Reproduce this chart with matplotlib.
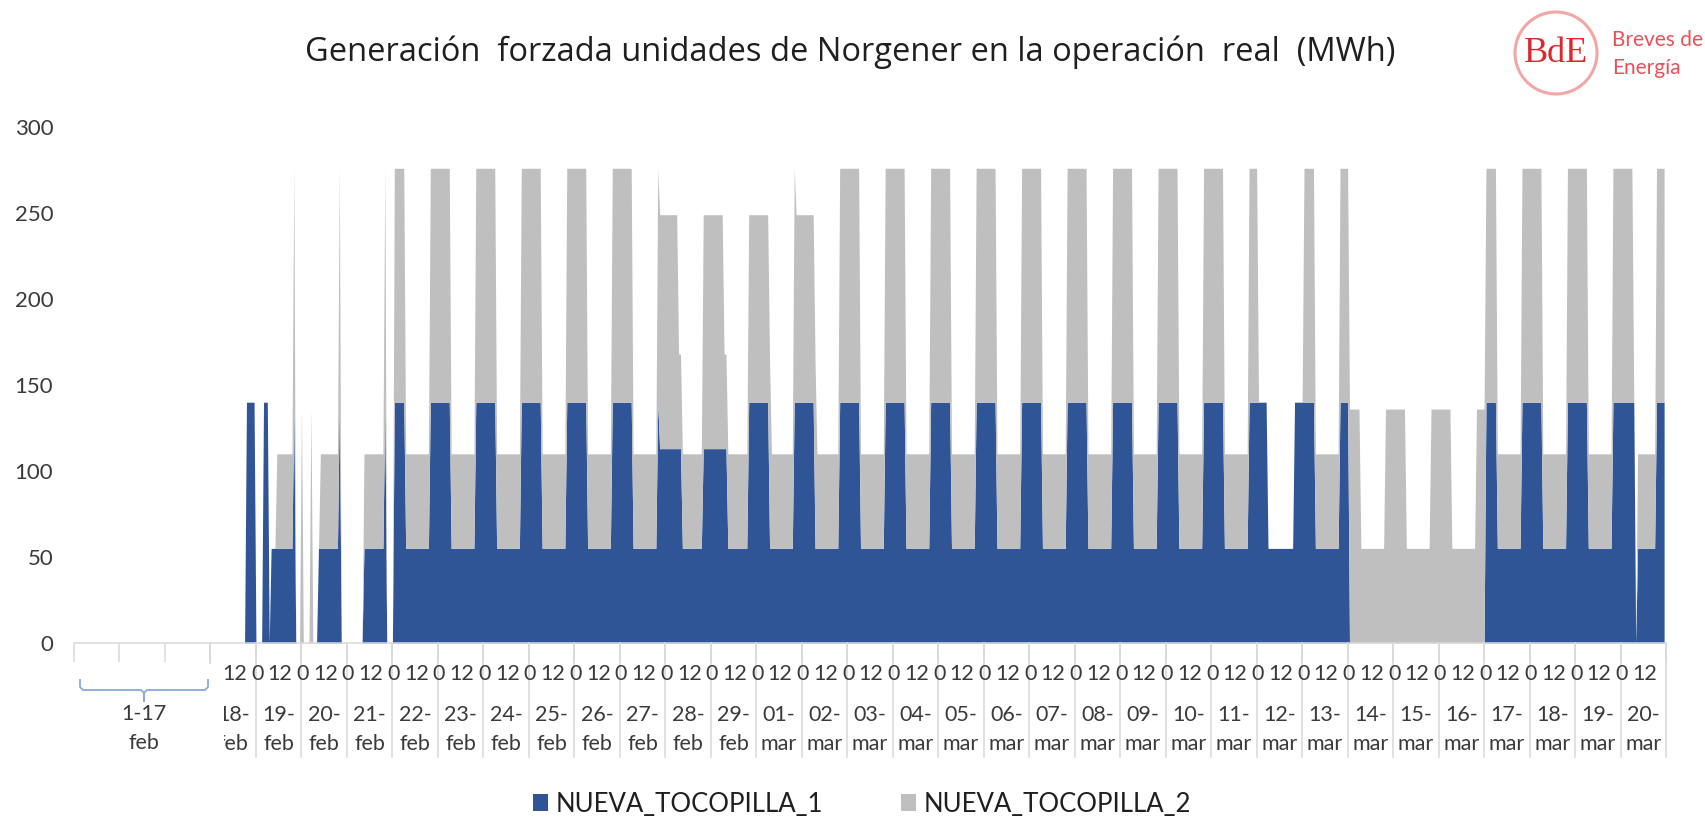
import numpy as np
import matplotlib
matplotlib.use('Agg')
import matplotlib.pyplot as plt
import matplotlib.transforms as mtransforms
from matplotlib.patches import Rectangle, Circle, Patch
from matplotlib.lines import Line2D

W, H = 1706, 819

# days on the category axis (first three sit under the "1-17 feb" bracket)
days = ['15-feb', '16-feb', '17-feb', '18-feb', '19-feb', '20-feb', '21-feb', '22-feb', '23-feb',
        '24-feb', '25-feb', '26-feb', '27-feb', '28-feb', '29-feb', '01-mar', '02-mar', '03-mar',
        '04-mar', '05-mar', '06-mar', '07-mar', '08-mar', '09-mar', '10-mar', '11-mar', '12-mar',
        '13-mar', '14-mar', '15-mar', '16-mar', '17-mar', '18-mar', '19-mar', '20-mar']
hidden_days = 3
hidden_label = '1-17\nfeb'
hour_labels = ['0', '12']
series_names = ['NUEVA_TOCOPILLA_1', 'NUEVA_TOCOPILLA_2']

# hourly generation (MWh): (day, hour, new value) each time the value changes
unit1_changes = [
    ('18-feb', 19, 140), ('19-feb', 0, 0), ('19-feb', 4, 140), ('19-feb', 7, 0), ('19-feb', 8, 55),
    ('19-feb', 20, 140), ('19-feb', 21, 0), ('20-feb', 9, 55), ('20-feb', 20, 140), ('20-feb', 21, 0),
    ('21-feb', 9, 55), ('21-feb', 20, 140), ('21-feb', 21, 0), ('22-feb', 1, 140), ('22-feb', 7, 55),
    ('22-feb', 20, 140), ('23-feb', 7, 55), ('23-feb', 20, 140), ('24-feb', 7, 55), ('24-feb', 20, 140),
    ('25-feb', 7, 55), ('25-feb', 20, 140), ('26-feb', 7, 55), ('26-feb', 20, 140), ('27-feb', 7, 55),
    ('27-feb', 20, 140), ('27-feb', 21, 113), ('28-feb', 9, 55), ('28-feb', 20, 113), ('29-feb', 9, 55),
    ('29-feb', 20, 140), ('01-mar', 7, 55), ('01-mar', 20, 140), ('02-mar', 7, 55), ('02-mar', 20, 140),
    ('03-mar', 7, 55), ('03-mar', 20, 140), ('04-mar', 7, 55), ('04-mar', 20, 140), ('05-mar', 7, 55),
    ('05-mar', 20, 140), ('06-mar', 7, 55), ('06-mar', 20, 140), ('07-mar', 7, 55), ('07-mar', 20, 140),
    ('08-mar', 7, 55), ('08-mar', 20, 140), ('09-mar', 7, 55), ('09-mar', 20, 140), ('10-mar', 7, 55),
    ('10-mar', 20, 140), ('11-mar', 7, 55), ('11-mar', 20, 140), ('12-mar', 6, 55), ('12-mar', 20, 140),
    ('13-mar', 7, 55), ('13-mar', 20, 140), ('14-mar', 1, 0), ('17-mar', 1, 140), ('17-mar', 7, 55),
    ('17-mar', 20, 140), ('18-mar', 7, 55), ('18-mar', 20, 140), ('19-mar', 7, 55), ('19-mar', 20, 140),
    ('20-mar', 8, 0), ('20-mar', 9, 55), ('20-mar', 19, 140),
]
unit2_changes = [
    ('19-feb', 11, 55), ('19-feb', 20, 136), ('19-feb', 21, 0), ('20-feb', 0, 136), ('20-feb', 1, 0),
    ('20-feb', 5, 136), ('20-feb', 6, 0), ('20-feb', 10, 55), ('20-feb', 20, 136), ('20-feb', 21, 0),
    ('21-feb', 9, 55), ('21-feb', 20, 136), ('21-feb', 21, 0), ('22-feb', 1, 136), ('22-feb', 7, 55),
    ('22-feb', 20, 136), ('23-feb', 7, 55), ('23-feb', 20, 136), ('24-feb', 7, 55), ('24-feb', 20, 136),
    ('25-feb', 7, 55), ('25-feb', 20, 136), ('26-feb', 7, 55), ('26-feb', 20, 136), ('27-feb', 7, 55),
    ('27-feb', 20, 136), ('28-feb', 7, 55), ('28-feb', 20, 136), ('29-feb', 7, 55), ('29-feb', 20, 109),
    ('01-mar', 8, 55), ('01-mar', 20, 136), ('01-mar', 21, 109), ('02-mar', 8, 55), ('02-mar', 20, 136),
    ('03-mar', 7, 55), ('03-mar', 20, 136), ('04-mar', 7, 55), ('04-mar', 20, 136), ('05-mar', 7, 55),
    ('05-mar', 20, 136), ('06-mar', 7, 55), ('06-mar', 20, 136), ('07-mar', 7, 55), ('07-mar', 20, 136),
    ('08-mar', 7, 55), ('08-mar', 20, 136), ('09-mar', 7, 55), ('09-mar', 20, 136), ('10-mar', 7, 55),
    ('10-mar', 20, 136), ('11-mar', 7, 55), ('11-mar', 20, 136), ('12-mar', 1, 0), ('13-mar', 1, 136),
    ('13-mar', 7, 55), ('13-mar', 20, 136), ('14-mar', 7, 55), ('14-mar', 20, 136), ('15-mar', 7, 55),
    ('15-mar', 20, 136), ('16-mar', 7, 55), ('16-mar', 20, 136), ('17-mar', 7, 55), ('17-mar', 20, 136),
    ('18-mar', 7, 55), ('18-mar', 20, 136), ('19-mar', 7, 55), ('19-mar', 20, 136), ('20-mar', 7, 0),
    ('20-mar', 9, 55), ('20-mar', 19, 136),
]


def expand(changes):
    vals = np.zeros(len(days) * 24)
    for d, h, v in changes:
        vals[days.index(d) * 24 + h:] = v
    return vals


u1 = expand(unit1_changes)
u2 = expand(unit2_changes)
x = np.arange(len(u1))

blue = '#2f5597'
gray = '#bfbfbf'
axis_col = '#d9d9d9'
txt = '#3a3a3a'
lab_font = 'Lato'

fig = plt.figure(figsize=(W / 100, H / 100), dpi=100)
ax = fig.add_axes([74 / W, 1 - 643 / H, 1592 / W, 516 / H])
ax.fill_between(x, 0, u1, color=blue, lw=0)
ax.fill_between(x, u1, u1 + u2, color=gray, lw=0)
ax.set_xlim(0, len(days) * 24)
ax.set_ylim(0, 300)

ax.set_yticks(range(0, 301, 50))
ax.tick_params(axis='y', length=0, pad=15, labelsize=16, labelcolor=txt)
for lab in ax.get_yticklabels():
    lab.set_family(lab_font)
ax.set_xticks([24 * k for k in range(len(days) + 1)])
ax.set_xticklabels([])
ax.tick_params(axis='x', length=13.7, width=1.1, color=axis_col)
for s in ['top', 'right', 'left']:
    ax.spines[s].set_visible(False)
ax.spines['bottom'].set_color(axis_col)
ax.spines['bottom'].set_linewidth(1.1)

# multi-level category labels
trans = mtransforms.blended_transform_factory(ax.transData, ax.transAxes)
for k in range(hidden_days, len(days) + 1):
    ax.plot([24 * k, 24 * k], [0, -(757 - 643) / 516], transform=trans, color=axis_col,
            lw=1.1, clip_on=False)
for k in range(hidden_days, len(days)):
    ax.text(24 * k + 0.6, -(674 - 643) / 516, hour_labels[0], transform=trans, ha='center',
            va='center', fontsize=15.5, color=txt, family=lab_font)
    ax.text(24 * k + 12.6, -(674 - 643) / 516, hour_labels[1], transform=trans, ha='center',
            va='center', fontsize=15.5, color=txt, family=lab_font)
    num, mon = days[k].split('-')
    ax.text(24 * k + 12, -(715 - 643) / 516, num + '-', transform=trans, ha='center',
            va='center', fontsize=15.5, color=txt, family=lab_font)
    ax.text(24 * k + 12, -(744 - 643) / 516, mon, transform=trans, ha='center',
            va='center', fontsize=15.5, color=txt, family=lab_font)

# white box over the compressed days, with a brace and label
fig.add_artist(Rectangle((0, 1 - 765 / H), 224 / W, (765 - 664) / H, transform=fig.transFigure,
                         fc='white', ec='none', zorder=5))
bx = [80, 80, 83, 141, 144, 144, 144, 147, 205, 208, 208]
by = [680, 687, 690, 690, 693, 701, 693, 690, 690, 687, 680]
fig.add_artist(Line2D([v / W for v in bx], [1 - v / H for v in by], transform=fig.transFigure,
                      color='#8aa8dc', lw=1.3, zorder=6))
fig.text(144 / W, 1 - 714 / H, hidden_label.split('\n')[0], ha='center', va='center',
         fontsize=15.5, color=txt, family=lab_font, zorder=6)
fig.text(144 / W, 1 - 743 / H, hidden_label.split('\n')[1], ha='center', va='center',
         fontsize=15.5, color=txt, family=lab_font, zorder=6)

# title
fig.text(850 / W, 1 - 52 / H,
         'Generación  forzada unidades de Norgener en la operación  real  (MWh)',
         ha='center', va='center', fontsize=23.5, color='#1f1f1f', family='Open Sans')

# logo
fig.add_artist(Circle((1556, H - 53), 41, transform=mtransforms.IdentityTransform(),
                      fill=False, ec='#f3a6a6', lw=2.2))
fig.text(1556 / W, 1 - 54 / H, 'BdE', ha='center', va='center', fontsize=26,
         color='#e0262d', family='Liberation Serif')
fig.text(1612 / W, 1 - 40 / H, 'Breves de', ha='left', va='center', fontsize=15,
         color='#e8505a', family=lab_font)
fig.text(1612 / W, 1 - 68 / H, 'Energía', ha='left', va='center', fontsize=15,
         color='#e8505a', family=lab_font)

# legend
handles = [Patch(fc=blue, ec='none'), Patch(fc=gray, ec='none')]
fig.legend(handles, series_names, loc='center', bbox_to_anchor=(862 / W, 1 - 804 / H), ncol=2,
           frameon=False, handlelength=0.6, handleheight=0.6, handletextpad=0.3,
           columnspacing=3.0, prop={'family': lab_font, 'size': 18.5}, labelcolor='#1f1f1f')

fig.savefig('out.png', dpi=100)
